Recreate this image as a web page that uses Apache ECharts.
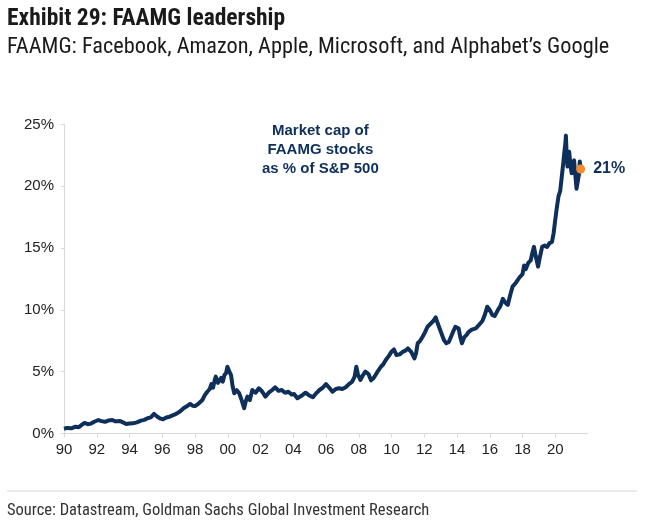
<!DOCTYPE html>
<html>
<head>
<meta charset="utf-8">
<script src="https://cdn.jsdelivr.net/npm/echarts@6/dist/echarts.min.js"></script>
<style>
html,body{margin:0;padding:0;background:#fff;}
#chart{width:650px;height:529px;}
</style>
</head>
<body>
<div id="chart"></div>
<script>
// Dates as decimal years, values in % of S&P 500
var years = [
 1990.0,1990.2,1990.45,1990.7,1990.9,1991.1,1991.25,1991.45,1991.65,1991.85,
 1992.1,1992.3,1992.5,1992.7,1992.95,1993.15,1993.4,1993.6,1993.8,1994.0,
 1994.2,1994.45,1994.7,1994.9,1995.1,1995.3,1995.5,1995.7,1995.9,1996.05,
 1996.25,1996.45,1996.7,1996.9,1997.1,1997.3,1997.5,1997.7,1997.85,1998.0,
 1998.2,1998.45,1998.6,1998.75,1998.9,1999.0,1999.1,1999.2,1999.27,1999.4,
 1999.5,1999.6,1999.7,1999.8,1999.9,1999.98,2000.1,2000.2,2000.3,2000.4,
 2000.55,2000.7,2000.85,2001.0,2001.1,2001.2,2001.35,2001.5,2001.7,2001.9,
 2002.1,2002.3,2002.5,2002.7,2002.9,2003.1,2003.3,2003.5,2003.7,2003.9,
 2004.05,2004.25,2004.5,2004.75,2004.95,2005.2,2005.4,2005.6,2005.8,2006.0,
 2006.2,2006.4,2006.6,2006.8,2007.0,2007.2,2007.4,2007.6,2007.75,2007.85,
 2007.95,2008.1,2008.25,2008.4,2008.6,2008.75,2008.9,2009.1,2009.35,2009.5,
 2009.65,2009.85,2010.0,2010.15,2010.3,2010.5,2010.7,2010.85,2011.0,2011.2,
 2011.4,2011.5,2011.6,2011.75,2011.9,2012.05,2012.2,2012.4,2012.55,2012.7,
 2012.8,2012.9,2013.05,2013.2,2013.35,2013.5,2013.6,2013.75,2013.9,2014.0,
 2014.1,2014.2,2014.3,2014.45,2014.6,2014.7,2014.9,2015.15,2015.35,2015.55,
 2015.7,2015.85,2016.0,2016.15,2016.3,2016.5,2016.65,2016.8,2016.95,2017.1,
 2017.25,2017.4,2017.6,2017.8,2018.0,2018.1,2018.2,2018.35,2018.5,2018.6,
 2018.7,2018.8,2018.95,2019.05,2019.2,2019.35,2019.5,2019.65,2019.8,2019.9,
 2020.0,2020.1,2020.2,2020.3,2020.4,2020.5,2020.55,2020.62,2020.65,2020.7,
 2020.75,2020.8,2020.85,2020.92,2021.0,2021.08,2021.15,2021.22,2021.3,2021.4,
 2021.45,2021.5,2021.55
];
var faamgShare = [
 0.38,0.45,0.42,0.55,0.50,0.72,0.85,0.75,0.80,0.95,
 1.09,1.00,0.95,1.05,1.09,0.98,1.02,0.90,0.77,0.80,
 0.82,0.90,1.04,1.10,1.23,1.30,1.58,1.36,1.20,1.15,
 1.30,1.36,1.50,1.63,1.80,2.04,2.20,2.39,2.25,2.22,
 2.40,2.71,3.10,3.38,3.60,4.00,3.70,4.30,4.60,4.10,
 4.06,4.50,4.20,4.73,4.90,5.40,5.00,4.73,3.80,3.25,
 3.50,3.25,2.70,2.04,2.60,2.98,2.70,3.52,3.30,3.66,
 3.40,2.98,3.30,3.50,3.74,3.45,3.52,3.30,3.38,3.15,
 3.20,2.85,3.05,3.30,3.10,2.93,3.25,3.52,3.70,4.00,
 3.70,3.38,3.60,3.66,3.60,3.74,4.00,4.19,4.60,5.40,
 4.80,4.33,4.70,5.00,4.80,4.30,4.47,4.90,5.40,5.60,
 5.95,6.30,6.62,6.80,6.35,6.40,6.62,6.70,6.89,6.60,
 6.08,6.50,7.30,7.50,7.83,8.20,8.64,8.90,9.10,9.40,
 9.00,8.64,8.10,7.56,7.30,7.40,7.56,8.20,8.64,8.55,
 8.50,7.80,7.30,7.80,8.00,8.20,8.40,8.50,8.80,9.10,
 9.60,10.26,10.00,9.60,9.50,10.00,10.30,10.90,10.60,10.40,
 11.20,11.90,12.20,12.60,12.90,13.60,13.30,13.80,14.00,14.60,
 15.10,14.40,13.50,14.20,15.10,15.20,15.10,15.40,15.50,16.20,
 17.30,18.30,19.20,19.60,20.80,22.00,22.70,23.50,24.10,22.50,
 21.60,22.40,22.80,21.80,21.05,21.60,22.10,21.00,19.80,19.80,
 21.00,22.00,21.40
];
var latestPoint = [2021.55, 21.4];
var latestLabel = '21%';
var yTicks = [0, 5, 10, 15, 20, 25];
var xTickYears = [1990,1992,1994,1996,1998,2000,2002,2004,2006,2008,2010,2012,2014,2016,2018,2020,2022];

var titleText = 'Exhibit 29: FAAMG leadership';
var subtitleText = 'FAAMG: Facebook, Amazon, Apple, Microsoft, and Alphabet\u2019s Google';
var sourceText = 'Source: Datastream, Goldman Sachs Global Investment Research';
var annotationText = 'Market cap of\nFAAMG stocks\nas % of S&P 500';

var navy = '#0f2f5b';
var narrow = "'Liberation Sans Narrow','Roboto Condensed','Arial Narrow',sans-serif";
var arial = "'Liberation Sans',Arial,sans-serif";

var chart = echarts.init(document.getElementById('chart'), null, {renderer:'canvas'});
var lineData = years.map(function(y,i){return [y, faamgShare[i]];});

chart.setOption({
  animation:false,
  backgroundColor:'#fff',
  grid:{left:64, right:62, top:124.5, bottom:95.5},
  xAxis:{
    type:'value', min:xTickYears[0], max:xTickYears[xTickYears.length-1], interval:2,
    axisLine:{show:true, lineStyle:{color:'#d9d9d9', width:1}},
    axisTick:{show:true, length:4, lineStyle:{color:'#d9d9d9'}},
    splitLine:{show:false},
    axisLabel:{
      color:'#222', fontSize:15, fontFamily:arial, margin:9,
      showMaxLabel:false,
      formatter:function(v){ if(v>=2022) return ''; var s=String(Math.round(v)%100); return s.length<2?'0'+s:s; }
    }
  },
  yAxis:{
    type:'value', min:yTicks[0], max:yTicks[yTicks.length-1], interval:5,
    axisLine:{show:true, lineStyle:{color:'#d9d9d9', width:1}},
    axisTick:{show:true, length:3, lineStyle:{color:'#d9d9d9'}},
    splitLine:{show:false},
    axisLabel:{color:'#222', fontSize:15, fontFamily:arial, margin:10, formatter:'{value}%'}
  },
  series:[
    {type:'line', data:lineData, showSymbol:false, symbol:'none',
     lineStyle:{color:navy, width:4, join:'round'}, z:2},
    {type:'scatter', data:[latestPoint], symbol:'circle', symbolSize:9,
     itemStyle:{color:'#f28a2e', opacity:1}, z:3,
     label:{show:true, position:'right', distance:8, formatter:latestLabel,
       color:navy, fontSize:16, fontWeight:'bold', fontFamily:arial}}
  ],
  graphic:[
    {type:'text', left:7, top:7, style:{text:titleText, font:'bold 23.5px '+narrow, fill:'#1a1a1a'}},
    {type:'text', left:7, top:36, style:{text:subtitleText, font:'22.3px '+narrow, fill:'#1a1a1a'}},
    {type:'text', left:262, top:121, style:{text:annotationText, font:'bold 15px '+arial, fill:navy, textAlign:'center', lineHeight:19}},
    {type:'line', shape:{x1:7,y1:491,x2:637,y2:491}, style:{stroke:'#d6d6d6', lineWidth:1}},
    {type:'text', left:7, top:502, style:{text:sourceText, font:'16.5px '+narrow, fill:'#333'}}
  ]
});
</script>
</body>
</html>
